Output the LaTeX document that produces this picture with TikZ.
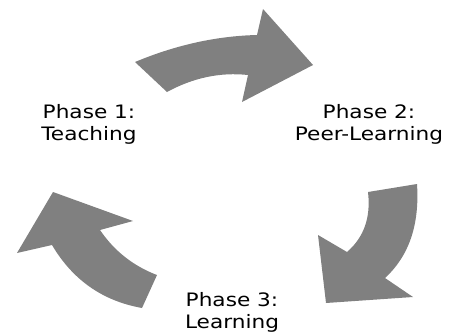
\documentclass[tikz,border=0pt]{standalone}
\usepackage{fontspec}
\setmainfont[FakeStretch=1.17]{DejaVu Sans}
\definecolor{arrowgray}{RGB}{128,128,128}
\begin{document}
\begin{tikzpicture}[x=1pt,y=-1pt,
    phase/.style={align=center,anchor=north,inner sep=0pt,font=\fontsize{18.5}{22.7}\selectfont},
    cyclearrow/.style={fill=arrowgray,draw=none}]
    \useasboundingbox (0,0) rectangle (455,335);
    \fill[cyclearrow] (135,62) .. controls (175.7,45) and (216.3,36) .. (257,35) -- (263,9) -- (313,65) -- (242,102) -- (248,75) .. controls (220.3,72) and (193.3,77.7) .. (167,92) -- cycle;
    \fill[cyclearrow] (417,184) .. controls (419.7,224.7) and (409,256) .. (385,278) -- (413,297) -- (326,303) -- (318,235) -- (347,252) .. controls (364,237.3) and (371,217.3) .. (368,192) -- cycle;
    \fill[cyclearrow] (142,308) .. controls (102.7,301) and (72.7,280) .. (52,245) -- (17,253) -- (53,192) -- (133,221) -- (100,230) .. controls (114.3,251) and (133.3,266) .. (157,275) -- cycle;
    \node[phase] (p1) at (89,104) {Phase 1:\\Teaching};
    \node[phase] (p2) at (369,104) {Phase 2:\\Peer-Learning};
    \node[phase] (p3) at (232,292) {Phase 3:\\Learning};
\end{tikzpicture}
\end{document}
